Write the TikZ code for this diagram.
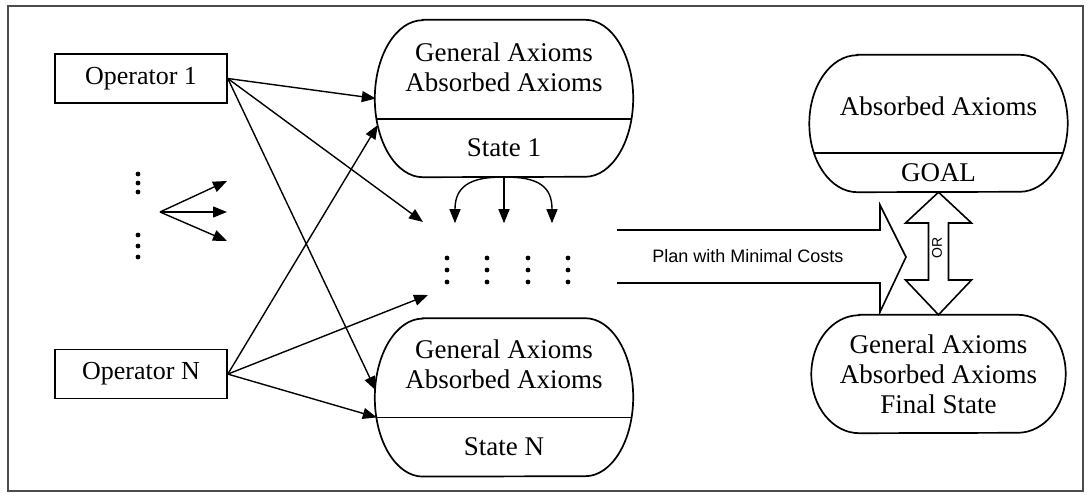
\documentclass[tikz,border=0pt]{standalone}
\usepackage{fontspec}
\setmainfont{Liberation Serif}
\setsansfont{Liberation Sans}
\usetikzlibrary{positioning,arrows.meta}

% capsule outline round an empty frame node: #1 node, #2 half height
\newcommand{\caprx}{48pt}
\newcommand{\capsule}[2]{%
  \draw[capline] ([xshift=\caprx]#1.north west) -- ([xshift=-\caprx]#1.north east)
    arc[start angle=90, end angle=-90, x radius=\caprx, y radius=#2]
    -- ([xshift=\caprx]#1.south west)
    arc[start angle=270, end angle=90, x radius=\caprx, y radius=#2] -- cycle;}

\begin{document}
\begin{tikzpicture}[x=1pt, y=-1pt,
    opbox/.style={draw, line width=1.6pt, minimum width=172pt, minimum height=49pt, inner sep=0pt, font=\fontsize{26}{30}\selectfont},
    capframe/.style={inner sep=0pt, minimum width=258pt, minimum height=#1},
    captext/.style={align=center, inner sep=0pt, font=\fontsize{27}{30}\selectfont},
    capline/.style={line width=1.7pt},
    link/.style={line width=1.4pt, -{Triangle[length=14pt,width=11pt]}},
    bigarrow/.style={line width=1.6pt, line join=miter},
    dotcol/.style={inner sep=0pt, minimum width=6pt, minimum height=34pt, path picture={
        \fill ([yshift=#1]path picture bounding box.center) circle[radius=2.4pt];
        \fill (path picture bounding box.center) circle[radius=2.4pt];
        \fill ([yshift=-#1]path picture bounding box.center) circle[radius=2.4pt];}},
    dotcol/.default=11pt
  ]
    \useasboundingbox (0,0) rectangle (1088,494);
    \draw[black!70, line width=1.5pt] (8,6) rectangle (1083,491);

    % Operators.
    \node[opbox] (op1) at (141,78.5) {Operator 1};
    \node[opbox, below=245pt of op1] (opN) {Operator N};
    \node[dotcol=9pt] (opdots1) at (138,183) {};
    \node[dotcol] (opdots2) at (138,246) {};
    \coordinate (fan) at (160,212);
    \coordinate (fanA) at (227,181);
    \coordinate (fanB) at (227,212);
    \coordinate (fanC) at (227,241);
    \draw[link] (fan) -- (fanA);
    \draw[link] (fan) -- (fanB);
    \draw[link] (fan) -- (fanC);

    % States 1 and N.
    \node[capframe=157pt] (state1) at (504,98.5) {};
    \node[capframe=158pt, below=141pt of state1] (stateN) {};
    \capsule{state1}{78.5pt}
    \capsule{stateN}{79pt}
    \draw[capline] ([xshift=1.7pt,yshift=-20.5pt]state1.west) -- ([xshift=-1.7pt,yshift=-20.5pt]state1.east);
    \draw[capline] ([xshift=1.6pt,yshift=-20pt]stateN.west) -- ([xshift=-1.6pt,yshift=-20pt]stateN.east);
    \node[captext] (state1ax) at ([yshift=31.5pt]state1.center) {General Axioms\\Absorbed Axioms};
    \node[captext] (state1nm) at ([yshift=-49.5pt]state1.center) {State 1};
    \node[captext] (stateNax) at ([yshift=33pt]stateN.center) {General Axioms\\Absorbed Axioms};
    \node[captext] (stateNnm) at ([yshift=-49pt]stateN.center) {State N};

    % Intermediate states.
    \node[dotcol=12pt] (middots1) at (447,270) {};
    \node[dotcol=12pt] (middots2) at (487,270) {};
    \node[dotcol=12pt] (middots3) at (528,270) {};
    \node[dotcol=12pt] (middots4) at (568,270) {};
    \coordinate (midup) at (423,222);
    \coordinate (midlow) at (428,295);
    \coordinate (dropM) at ([yshift=-46pt]state1.south);
    \coordinate (dropL) at ([xshift=-49pt]dropM);
    \coordinate (dropR) at ([xshift=48pt]dropM);

    % Operator links.
    \draw[link] (op1.east) -- ([xshift=1pt]state1.west);
    \draw[link] (op1.east) -- (midup);
    \draw[link] (op1.east) -- ([xshift=1pt,yshift=7pt]stateN.west);
    \draw[link] (opN.east) -- ([xshift=3pt,yshift=-26.5pt]state1.west);
    \draw[link] (opN.east) -- (midlow);
    \draw[link] (opN.east) -- ([xshift=2pt,yshift=-20pt]stateN.west);

    % Successors of state 1.
    \draw[link] (state1.south) -- (dropM);
    \draw[link] ([xshift=-4pt]state1.south) .. controls +(-38,0) and +(0,-30) .. (dropL);
    \draw[link] ([xshift=4pt]state1.south) .. controls +(38,0) and +(0,-30) .. (dropR);

    % Goal and final state.
    \node[capframe=137pt] (goal) at (938.5,123.5) {};
    \node[capframe=118pt, minimum width=254pt] (final) at (938.5,374) {};
    \capsule{goal}{68.5pt}
    \capsule{final}{59pt}
    \draw[capline] ([xshift=4.7pt,yshift=-29.5pt]goal.west) -- ([xshift=-4.7pt,yshift=-29.5pt]goal.east);
    \node[captext] (goalax) at ([yshift=17.5pt]goal.center) {Absorbed Axioms};
    \node[captext] (goalnm) at ([yshift=-49pt]goal.center) {GOAL};
    \node[captext] (finalax) at (final.center) {General Axioms\\Absorbed Axioms\\Final State};

    % Plan arrow and OR arrow.
    \node[font=\sffamily\fontsize{18}{20}\selectfont] (plan) at (748,256) {Plan with Minimal Costs};
    \coordinate (plantip) at (906,257);
    \draw[bigarrow] (617,230) -- (880,230) -- (880,205) -- (plantip) -- (880,312) -- (880,283) -- (617,283);
    \draw[bigarrow] (goal.south) -- (971.5,223) -- (948.5,223) -- (948.5,280) -- (971.5,280) -- (final.north)
      -- (905.5,280) -- (928.5,280) -- (928.5,223) -- (905.5,223) -- cycle;
    \node[font=\sffamily\fontsize{14}{14}\selectfont, rotate=90] (ortext) at (937,248) {OR};
\end{tikzpicture}
\end{document}
